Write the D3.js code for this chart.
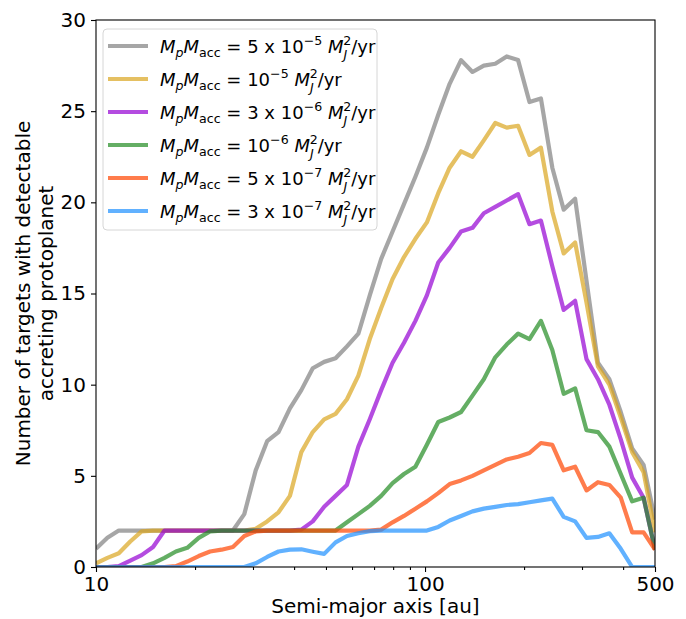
<!DOCTYPE html>
<html>
<head>
<meta charset="utf-8">
<script src="https://cdnjs.cloudflare.com/ajax/libs/d3/7.8.5/d3.min.js"></script>
<style>
body { margin: 0; background: #fff; }
svg { font-family: "DejaVu Sans", sans-serif; }
.axis path, .axis line { stroke: #000; stroke-width: 1.1; }
.axis text { font-size: 20px; fill: #000; font-family: "DejaVu Sans", sans-serif; }
</style>
</head>
<body>
<svg id="chart" width="686" height="619"></svg>
<script>
// semi-major axis grid [au]
var semiMajorAxis = [10.00, 10.83, 11.73, 12.71, 13.76, 14.91, 16.15, 17.49, 18.94, 20.52,
    22.22, 24.07, 26.07, 28.23, 30.58, 33.12, 35.87, 38.85, 42.08, 45.58,
    49.37, 53.47, 57.91, 62.72, 67.93, 73.58, 79.69, 86.31, 93.49, 101.3,
    109.7, 118.8, 128.7, 139.4, 150.9, 163.5, 177.1, 191.8, 207.7, 225.0,
    243.7, 263.9, 285.9, 309.6, 335.4, 363.3, 393.5, 426.2, 461.6, 500.0];

var nGrey = [1.0, 1.6, 2.0, 2.0, 2.0, 2.0, 2.0, 2.0, 2.0, 2.0,
    2.0, 2.0, 2.0, 2.9, 5.3, 6.9, 7.4, 8.7, 9.7, 10.9,
    11.25, 11.45, 12.1, 12.8, 14.9, 16.9, 18.4, 19.9, 21.4, 23.0,
    24.8, 26.5, 27.8, 27.15, 27.5, 27.6, 28.0, 27.8, 25.5, 25.7,
    21.9, 19.6, 20.2, 15.7, 11.2, 10.3, 8.5, 6.5, 5.6, 2.6];

var nYellow = [0.2, 0.5, 0.75, 1.4, 1.95, 2.0, 2.0, 2.0, 2.0, 2.0,
    2.0, 2.0, 2.0, 2.0, 2.1, 2.5, 3.0, 3.9, 6.3, 7.4,
    8.1, 8.4, 9.2, 10.5, 12.5, 14.2, 15.8, 17.0, 18.0, 18.9,
    20.5, 21.9, 22.8, 22.5, 23.4, 24.35, 24.1, 24.2, 22.6, 23.0,
    19.5, 17.2, 17.8, 14.5, 11.0, 10.0, 8.2, 6.3, 5.2, 1.9];

var nPurple = [0.0, 0.0, 0.05, 0.35, 0.65, 1.1, 2.0, 2.0, 2.0, 2.0,
    2.0, 2.0, 2.0, 2.0, 2.0, 2.0, 2.0, 2.0, 2.05, 2.5,
    3.3, 3.9, 4.5, 6.6, 8.1, 9.7, 11.2, 12.3, 13.5, 14.9,
    16.7, 17.5, 18.4, 18.6, 19.4, 19.75, 20.1, 20.45, 18.8, 19.0,
    16.5, 14.1, 14.6, 11.4, 10.3, 8.9, 7.0, 4.9, 3.8, 0.95];

var nGreen = [0.0, 0.0, 0.0, 0.0, 0.0, 0.2, 0.5, 0.85, 1.05, 1.6,
    1.95, 2.0, 2.0, 2.0, 2.0, 2.0, 2.0, 2.0, 2.0, 2.0,
    2.0, 2.0, 2.45, 2.9, 3.35, 3.9, 4.6, 5.1, 5.5, 6.7,
    7.95, 8.2, 8.5, 9.4, 10.3, 11.5, 12.2, 12.8, 12.5, 13.5,
    11.9, 9.5, 9.8, 7.5, 7.4, 6.6, 5.1, 3.6, 3.8, 0.95];

var nOrange = [0.0, 0.0, 0.0, 0.0, 0.0, 0.0, 0.0, 0.05, 0.3, 0.6,
    0.85, 0.95, 1.1, 1.7, 1.95, 2.0, 2.0, 2.0, 2.0, 2.0,
    2.0, 2.0, 2.0, 2.0, 2.0, 2.05, 2.45, 2.8, 3.2, 3.6,
    4.05, 4.55, 4.75, 5.0, 5.3, 5.6, 5.9, 6.05, 6.25, 6.8,
    6.7, 5.3, 5.5, 4.2, 4.65, 4.5, 3.8, 1.9, 1.9, 0.95];

var nBlue = [0.0, 0.0, 0.0, 0.0, 0.0, 0.0, 0.0, 0.0, 0.0, 0.0,
    0.0, 0.0, 0.0, 0.0, 0.2, 0.55, 0.85, 0.95, 0.97, 0.84,
    0.72, 1.35, 1.7, 1.85, 1.97, 2.0, 2.0, 2.0, 2.0, 2.0,
    2.2, 2.55, 2.8, 3.05, 3.2, 3.3, 3.4, 3.45, 3.55, 3.65,
    3.75, 2.75, 2.5, 1.6, 1.65, 1.85, 1.0, 0.0, 0.0, 0.0];

var series = [nGrey, nYellow, nPurple, nGreen, nOrange, nBlue];
var seriesColors = ["#808080", "#daa520", "#9400d3", "#228b22", "#ff4500", "#1e90ff"];
var labelCoef = ["5 x ", "", "3 x ", "", "5 x ", "3 x "];
var labelExp = ["\u22125", "\u22125", "\u22126", "\u22126", "\u22127", "\u22127"];

var xTicks = [10, 100, 500];
var xMinorTicks = [20, 30, 40, 50, 60, 70, 80, 90, 200, 300, 400];
var yTicks = [0, 5, 10, 15, 20, 25, 30];

var margin = {top: 20, right: 31, bottom: 52, left: 96};
var width = 686 - margin.left - margin.right;
var height = 619 - margin.top - margin.bottom;

var x = d3.scaleLog().domain([10, 500]).range([0, width]);
var y = d3.scaleLinear().domain([0, 30]).range([height, 0]);

var svg = d3.select("#chart");
var chart = svg.append("g")
    .attr("transform", "translate(" + margin.left + "," + margin.top + ")");

chart.append("clipPath")
    .attr("id", "plot-clip")
  .append("rect")
    .attr("width", width)
    .attr("height", height);

// lines
var line = d3.line()
    .x(function(d, i) { return x(semiMajorAxis[i]); })
    .y(function(d) { return y(d); });

chart.append("g")
    .attr("clip-path", "url(#plot-clip)")
  .selectAll(".series")
    .data(series)
  .enter().append("path")
    .attr("class", "series")
    .attr("d", line)
    .attr("fill", "none")
    .attr("stroke", function(d, i) { return seriesColors[i]; })
    .attr("stroke-opacity", 0.7)
    .attr("stroke-width", 4.2)
    .attr("stroke-linejoin", "round");

// axes
chart.append("g")
    .attr("class", "axis")
    .attr("transform", "translate(0," + height + ")")
    .call(d3.axisBottom(x).tickValues(xMinorTicks).tickFormat("").tickSize(3).tickSizeOuter(0))
    .select(".domain").remove();

chart.append("g")
    .attr("class", "axis")
    .attr("transform", "translate(0," + height + ")")
    .call(d3.axisBottom(x).tickValues(xTicks).tickFormat(d3.format("d")).tickSize(5).tickPadding(5).tickSizeOuter(0))
    .select(".domain").remove();

chart.append("g")
    .attr("class", "axis")
    .call(d3.axisLeft(y).tickValues(yTicks).tickSize(5).tickPadding(5).tickSizeOuter(0))
    .select(".domain").remove();

chart.append("rect")
    .attr("width", width)
    .attr("height", height)
    .attr("fill", "none")
    .attr("stroke", "#000")
    .attr("stroke-width", 1.1);

// axis labels
svg.append("text")
    .attr("x", margin.left + width / 2)
    .attr("y", 613)
    .attr("text-anchor", "middle")
    .attr("font-size", 20)
    .text("Semi-major axis [au]");

svg.append("text")
    .attr("transform", "translate(30," + (margin.top + height / 2) + ") rotate(-90)")
    .attr("text-anchor", "middle")
    .attr("font-size", 20)
    .text("Number of targets with detectable");

svg.append("text")
    .attr("transform", "translate(53," + (margin.top + height / 2) + ") rotate(-90)")
    .attr("text-anchor", "middle")
    .attr("font-size", 20)
    .text("accreting protoplanet");

// legend
var legend = svg.append("g").attr("transform", "translate(103,29)");

legend.append("rect")
    .attr("width", 274)
    .attr("height", 201)
    .attr("rx", 4)
    .attr("fill", "#fff")
    .attr("fill-opacity", 0.8)
    .attr("stroke", "#d6d6d6")
    .attr("stroke-width", 1);

var rows = legend.selectAll(".row")
    .data(series)
  .enter().append("g")
    .attr("class", "row")
    .attr("transform", function(d, i) { return "translate(0," + (17 + 33 * i) + ")"; });

rows.append("line")
    .attr("x1", 5)
    .attr("x2", 45)
    .attr("stroke", function(d, i) { return seriesColors[i]; })
    .attr("stroke-opacity", 0.7)
    .attr("stroke-width", 4.2);

rows.each(function(d, i) {
    var t = d3.select(this).append("text")
        .attr("x", 57)
        .attr("y", 7)
        .attr("font-size", 18)
        .style("white-space", "pre");
    var small = 12.6;
    t.append("tspan").attr("font-style", "italic").text("M");
    t.append("tspan").attr("font-style", "italic").attr("font-size", small).attr("dy", 4).text("p");
    t.append("tspan").attr("font-style", "italic").attr("dy", -4).text("M");
    t.append("tspan").attr("font-size", small).attr("dy", 4).text("acc");
    t.append("tspan").attr("dy", -4).text(" = " + labelCoef[i] + "10");
    t.append("tspan").attr("font-size", small).attr("dy", -8).text(labelExp[i]);
    t.append("tspan").attr("dy", 8).text(" ");
    t.append("tspan").attr("font-style", "italic").text("M");
    t.append("tspan").attr("font-style", "italic").attr("font-size", small).attr("dy", 6).text("J");
    t.append("tspan").attr("font-size", small).attr("dx", -4).attr("dy", -14).text("2");
    t.append("tspan").attr("dy", 8).text("/yr");
});
</script>
</body>
</html>
